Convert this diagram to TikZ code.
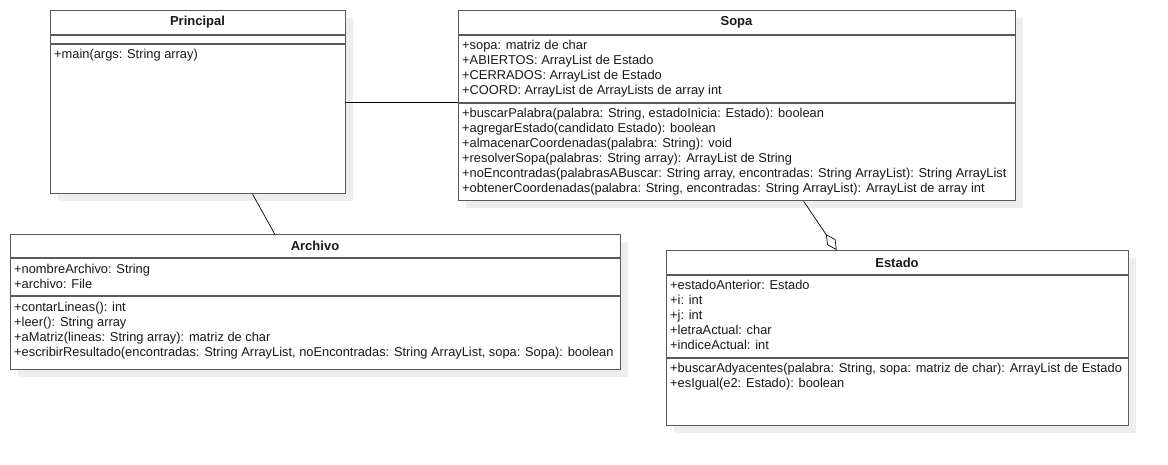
\documentclass[tikz,border=0pt]{standalone}
\usepackage{fontspec}
\setmainfont{Liberation Sans}
\usetikzlibrary{arrows.meta,shadows}
\begin{document}
\begin{tikzpicture}[x=1pt,y=-1pt,
  classbox/.style={draw=black!65, line width=1.3pt, fill=white, anchor=north west, inner sep=0pt,
    drop shadow={shadow xshift=7pt, shadow yshift=-7pt, fill=black!7, opacity=1}},
  divline/.style={draw=black!65, line width=1.3pt},
  ctitle/.style={font=\fontsize{13}{15}\selectfont\bfseries, text=black!90, inner sep=0pt},
  members/.style={anchor=north west, inner xsep=4pt, inner ysep=0pt, align=left, text=black!90, font=\fontsize{12.85}{15}\selectfont},
  assoc/.style={draw=black, line width=0.7pt}]
\useasboundingbox (0,0) rectangle (1168,465);
% Principal
\node[classbox, minimum width=295pt, minimum height=183pt] (principal) at (50,10) {};
\draw[divline] (50,35) -- (345,35);
\draw[divline] (50,44) -- (345,44);
\node[ctitle] (principalT) at (197.5,22.5) {Principal};
\node[members] (principalM) at (50,48) {\strut+main(args: String array)};
% Sopa
\node[classbox, minimum width=557pt, minimum height=190pt] (sopa) at (458,10) {};
\draw[divline] (458,35) -- (1015,35);
\draw[divline] (458,103) -- (1015,103);
\node[ctitle] (sopaT) at (736.5,22.5) {Sopa};
\node[members] (sopaA) at (458,39) {\strut+sopa: matriz de char\\\strut+ABIERTOS: ArrayList de Estado\\\strut+CERRADOS: ArrayList de Estado\\\strut+COORD: ArrayList de ArrayLists de array int};
\node[members] (sopaM) at (458,107) {\strut+buscarPalabra(palabra: String, estadoInicia: Estado): boolean\\\strut+agregarEstado(candidato Estado): boolean\\\strut+almacenarCoordenadas(palabra: String): void\\\strut+resolverSopa(palabras: String array): ArrayList de String\\\strut+noEncontradas(palabrasABuscar: String array, encontradas: String ArrayList): String ArrayList\\\strut+obtenerCoordenadas(palabra: String, encontradas: String ArrayList): ArrayList de array int};
% Archivo
\node[classbox, minimum width=610pt, minimum height=135pt] (archivo) at (10,234) {};
\draw[divline] (10,258) -- (620,258);
\draw[divline] (10,296) -- (620,296);
\node[ctitle] (archivoT) at (315,246) {Archivo};
\node[members] (archivoA) at (10,262.5) {\strut+nombreArchivo: String\\\strut+archivo: File};
\node[members] (archivoM) at (10,300.5) {\strut+contarLineas(): int\\\strut+leer(): String array\\\strut+aMatriz(lineas: String array): matriz de char\\\strut+escribirResultado(encontradas: String ArrayList, noEncontradas: String ArrayList, sopa: Sopa): boolean};
% Estado
\node[classbox, minimum width=462pt, minimum height=175pt] (estado) at (666,250) {};
\draw[divline] (666,275) -- (1128,275);
\draw[divline] (666,358) -- (1128,358);
\node[ctitle] (estadoT) at (897,262.5) {Estado};
\node[members] (estadoA) at (666,279) {\strut+estadoAnterior: Estado\\\strut+i: int\\\strut+j: int\\\strut+letraActual: char\\\strut+indiceActual: int};
\node[members] (estadoM) at (666,362) {\strut+buscarAdyacentes(palabra: String, sopa: matriz de char): ArrayList de Estado\\\strut+esIgual(e2: Estado): boolean};
% connectors
\draw[assoc] (principal.east) -- (principal.east -| sopa.west);
\draw[assoc] ([xshift=54.5pt]principal.south) -- ([xshift=-41pt]archivo.north);
\draw[assoc, -{Diamond[open, length=19pt, width=10pt]}] ([xshift=66.5pt]sopa.south) -- ([xshift=-61pt]estado.north);
\end{tikzpicture}
\end{document}
